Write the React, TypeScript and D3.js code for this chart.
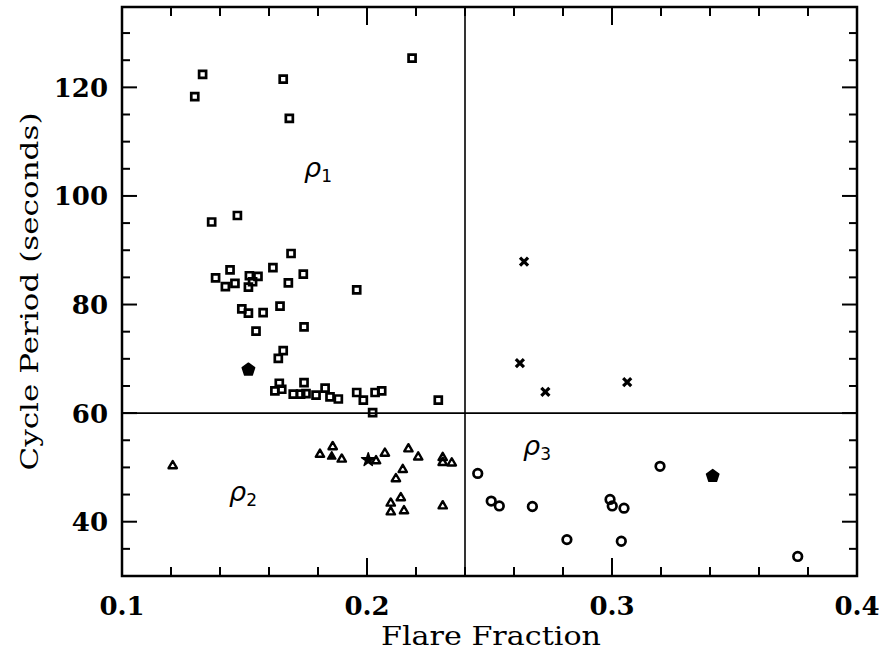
import React from 'react';
import * as d3 from 'd3';

// rho_1 region: open squares [flare fraction, period]
const rho1Squares: [number, number][] = [
  [0.1297, 118.3], [0.1329, 122.4], [0.1658, 121.5], [0.1683, 114.3], [0.2184, 125.4],
  [0.1366, 95.2], [0.1471, 96.4], [0.169, 89.4], [0.1441, 86.4], [0.1616, 86.8],
  [0.174, 85.6], [0.152, 85.3], [0.1555, 85.2], [0.1461, 83.9], [0.1533, 84.2],
  [0.1516, 83.2], [0.1382, 84.9], [0.1422, 83.3], [0.1679, 84.0], [0.1958, 82.7],
  [0.1489, 79.2], [0.1516, 78.4], [0.1576, 78.5], [0.1645, 79.7], [0.1547, 75.1],
  [0.1743, 75.9], [0.1658, 71.5], [0.1638, 70.1], [0.1642, 65.5], [0.1624, 64.1],
  [0.1652, 64.4], [0.1699, 63.5], [0.1743, 65.6], [0.1729, 63.5], [0.1751, 63.6],
  [0.1792, 63.3], [0.1829, 64.6], [0.1849, 63.0], [0.1883, 62.6], [0.1958, 63.8],
  [0.1985, 62.4], [0.2033, 63.8], [0.206, 64.1], [0.2291, 62.4], [0.2023, 60.1],
];
// rho_2 region: open triangles
const rho2Triangles: [number, number][] = [
  [0.1207, 50.3], [0.1808, 52.4], [0.186, 53.8], [0.1897, 51.5], [0.2037, 51.2],
  [0.2073, 52.6], [0.2169, 53.4], [0.2209, 51.9], [0.2146, 49.6], [0.2118, 47.9],
  [0.2309, 51.8], [0.2309, 50.9], [0.2346, 50.8], [0.2138, 44.4], [0.2097, 43.4],
  [0.2097, 41.8], [0.2151, 42.0], [0.2309, 42.9],
];
const rho2FilledTriangles: [number, number][] = [[0.1856, 52.0]];
const rho2Star: [number, number][] = [[0.2005, 51.4]];
// rho_3 region: open circles
const rho3Circles: [number, number][] = [
  [0.2452, 48.9], [0.2507, 43.8], [0.254, 42.9], [0.2675, 42.8], [0.2816, 36.7],
  [0.2992, 44.1], [0.3001, 42.9], [0.3049, 42.5], [0.3038, 36.4], [0.3196, 50.2],
  [0.3758, 33.6],
];
// upper-right region: crosses
const crosses: [number, number][] = [
  [0.2641, 87.9], [0.2624, 69.2], [0.2728, 63.9], [0.3062, 65.7],
];
// filled pentagons (region means)
const means: [number, number][] = [[0.1516, 68.0], [0.3411, 48.4]];

const xMajorTicks = [0.1, 0.2, 0.3, 0.4];
const xTickLabels = ['0.1', '0.2', '0.3', '0.4'];
const yMajorTicks = [40, 60, 80, 100, 120];
const yTickLabels = ['40', '60', '80', '100', '120'];
const dividerX = 0.24;
const dividerY = 60;
const regionLabels: { x: number; y: number; sub: string }[] = [
  { x: 0.1743, y: 103.5, sub: '1' },
  { x: 0.1437, y: 43.8, sub: '2' },
  { x: 0.2637, y: 52.3, sub: '3' },
];

const W = 879, H = 654;
const L = 122, R = 857, T = 7, B = 576;

const pentagon = {
  draw(ctx: any, size: number) {
    const r = Math.sqrt(size / (2.5 * Math.sin((2 * Math.PI) / 5)));
    for (let i = 0; i < 5; i++) {
      const a = -Math.PI / 2 + (i * 2 * Math.PI) / 5;
      const px = r * Math.cos(a), py = r * Math.sin(a);
      if (i === 0) ctx.moveTo(px, py); else ctx.lineTo(px, py);
    }
    ctx.closePath();
  },
};

export default function App() {
  const x = d3.scaleLinear().domain([0.1, 0.4]).range([L, R]);
  const y = d3.scaleLinear().domain([30, 134.8]).range([B, T]);

  const sq = d3.symbol().type(d3.symbolSquare).size(49)()!;
  const tri = d3.symbol().type(d3.symbolTriangle).size(30)()!;
  const circ = d3.symbol().type(d3.symbolCircle).size(58)()!;
  const cross = d3.symbol().type(d3.symbolTimes).size(44)()!;
  const star = d3.symbol().type(d3.symbolStar).size(55)()!;
  const pent = d3.symbol().type(pentagon as any).size(100)()!;

  const xMinor = d3.range(0.1, 0.4001, 0.02).filter(v => Math.abs(v * 10 - Math.round(v * 10)) > 1e-6);
  const yMinor = d3.range(35, 134.8, 5).filter(v => v % 20 !== 0);

  const serif = '"DejaVu Serif", "Liberation Serif", serif';

  return (
    <svg width={W} height={H} style={{ position: 'absolute', left: 0, top: 0, background: '#fff' }}>
      <rect x={0} y={0} width={W} height={H} fill="#fff" />
      {/* ticks */}
      <g stroke="#000" strokeWidth={2}>
        {xMajorTicks.map(v => (
          <g key={'xM' + v}>
            <line x1={x(v)} x2={x(v)} y1={B} y2={B - 18} />
            <line x1={x(v)} x2={x(v)} y1={T} y2={T + 18} />
          </g>
        ))}
        {xMinor.map(v => (
          <g key={'xm' + v}>
            <line x1={x(v)} x2={x(v)} y1={B} y2={B - 9} />
            <line x1={x(v)} x2={x(v)} y1={T} y2={T + 9} />
          </g>
        ))}
        {yMajorTicks.map(v => (
          <g key={'yM' + v}>
            <line x1={L} x2={L + 15} y1={y(v)} y2={y(v)} />
            <line x1={R} x2={R - 15} y1={y(v)} y2={y(v)} />
          </g>
        ))}
        {yMinor.map(v => (
          <g key={'ym' + v}>
            <line x1={L} x2={L + 8} y1={y(v)} y2={y(v)} />
            <line x1={R} x2={R - 8} y1={y(v)} y2={y(v)} />
          </g>
        ))}
      </g>
      {/* dividers */}
      <line x1={L} x2={R} y1={y(dividerY)} y2={y(dividerY)} stroke="#000" strokeWidth={1.6} />
      <line x1={x(dividerX)} x2={x(dividerX)} y1={T} y2={B} stroke="#000" strokeWidth={1.6} />
      {/* frame */}
      <rect x={L} y={T} width={R - L} height={B - T} fill="none" stroke="#000" strokeWidth={2.5} />

      {/* markers */}
      <g fill="none" stroke="#000" strokeWidth={2.7}>
        {rho1Squares.map((d, i) => (
          <path key={'s' + i} d={sq} transform={`translate(${x(d[0])},${y(d[1])})`} />
        ))}
        {rho3Circles.map((d, i) => (
          <path key={'c' + i} d={circ} transform={`translate(${x(d[0])},${y(d[1])})`} />
        ))}
      </g>
      <g fill="none" stroke="#000" strokeWidth={2.4} strokeLinejoin="round">
        {rho2Triangles.map((d, i) => (
          <path key={'t' + i} d={tri} transform={`translate(${x(d[0])},${y(d[1])})`} />
        ))}
      </g>
      <g fill="none" stroke="#000" strokeWidth={3.2}>
        {crosses.map((d, i) => (
          <path key={'x' + i} d={cross} transform={`translate(${x(d[0])},${y(d[1])})`} />
        ))}
      </g>
      <g fill="#000" stroke="#000" strokeWidth={1.5} strokeLinejoin="round">
        {rho2FilledTriangles.map((d, i) => (
          <path key={'ft' + i} d={tri} transform={`translate(${x(d[0])},${y(d[1])})`} />
        ))}
        {rho2Star.map((d, i) => (
          <path key={'st' + i} d={star} transform={`translate(${x(d[0])},${y(d[1])})`} />
        ))}
        {means.map((d, i) => (
          <path key={'p' + i} d={pent} transform={`translate(${x(d[0])},${y(d[1])})`} />
        ))}
      </g>

      {/* region labels */}
      {regionLabels.map(r => (
        <text key={r.sub} x={x(r.x)} y={y(r.y)} fontFamily='"DejaVu Sans", sans-serif' fontStyle="italic" fontSize={27} fill="#000">
          ρ<tspan fontStyle="normal" fontSize={17} dy={5}>{r.sub}</tspan>
        </text>
      ))}

      {/* tick labels */}
      {xMajorTicks.map((v, i) => (
        <text key={'xl' + v} x={x(v)} y={615} textAnchor="middle" fontFamily={serif} fontWeight="bold" fontSize={26} fill="#000">
          {xTickLabels[i]}
        </text>
      ))}
      {yMajorTicks.map((v, i) => (
        <text key={'yl' + v} x={108} y={y(v) + 9.5} textAnchor="end" fontFamily={serif} fontWeight="bold" fontSize={26} fill="#000">
          {yTickLabels[i]}
        </text>
      ))}

      {/* axis titles */}
      <text x={491} y={645} textAnchor="middle" fontFamily={serif} fontSize={26} fill="#000" textLength={220} lengthAdjust="spacingAndGlyphs">
        Flare Fraction
      </text>
      <text transform={`translate(38,${(T + B) / 2}) rotate(-90)`} textAnchor="middle" fontFamily={serif} fontSize={25} fill="#000" textLength={358} lengthAdjust="spacingAndGlyphs">
        Cycle Period (seconds)
      </text>
    </svg>
  );
}
